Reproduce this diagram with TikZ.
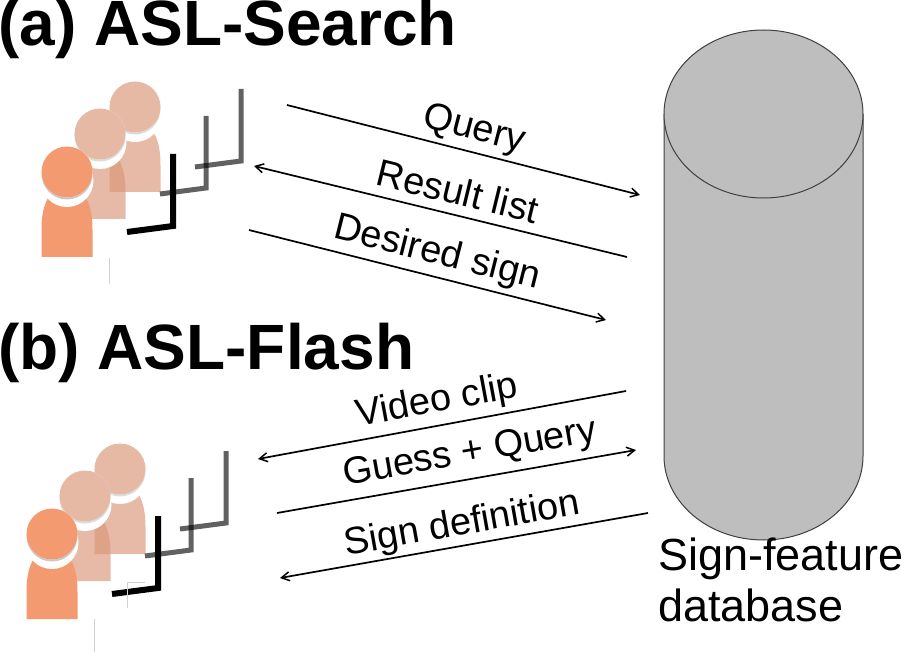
\documentclass[tikz,border=0pt]{standalone}
\usepackage{fontspec}
\setmainfont{Liberation Sans}
\usetikzlibrary{arrows.meta}
\definecolor{skin}{HTML}{F39A70}
\definecolor{faded}{HTML}{D99576}
\definecolor{cyl}{HTML}{BEBEBE}
\newcommand{\fsz}[1]{\fontsize{#1pt}{#1pt}\selectfont}
\tikzset{
 conn/.style={draw=black,line width=1.7pt,-{Straight Barb[length=8pt,width=9pt,line width=1.5pt]}},
 lab/.style={inner sep=0pt,font=\fsz{38}},
 biglab/.style={inner sep=0pt,font=\fsz{64}\bfseries,anchor=base west},
 side/.style={inner sep=0pt,font=\fsz{45},anchor=base west},
 guide/.style={draw=black!18,line width=.8pt},
 pics/person/.style n args={2}{code={
   \fill[#1,opacity=#2] (-25.5,85) -- (-25.5,58) .. controls (-25.5,42) and (-23,33) .. (-18,24) -- (18,24) .. controls (23,33) and (25.5,42) .. (25.5,58) -- (25.5,85) -- cycle;
   \fill[white] (0,8.5) circle (26.5);
   \fill[black,opacity=.22*#2] (0,2) circle (25.5);
   \fill[white] (0,0) circle (25.5);
   \fill[#1,opacity=#2] (0,0) circle (25.5);
 }},
 pics/screen/.style n args={2}{code={
   \draw[black,opacity=#1,line width=#2,line join=miter] (0,0) -- (0,72) -- (-46,78);
 }}
}
\begin{document}
\begin{tikzpicture}[x=1pt,y=-1pt]
\useasboundingbox (0,0) rectangle (902,652);
% cylinder
\draw[fill=cyl,draw=black!75,line width=1pt] (664,114) -- (664,456) arc[start angle=180,end angle=0,x radius=99.5,y radius=84] -- (863,114);
\draw[fill=cyl,draw=black!75,line width=1pt] (763.5,114) ellipse[x radius=99.5,y radius=84];
% groups of people
\foreach \ox/\oy in {0/0,-15/362}{
\begin{scope}[shift={(\ox,\oy)}]
 \pic at (135,107) {person={faded}{.65}};
 \pic at (100,134) {person={faded}{.65}};
 \pic at (67,172) {person={skin}{1}};
 \pic at (241,89) {screen={.62}{5pt}};
 \pic at (206,116) {screen={.62}{5pt}};
 \pic at (173,154) {screen={1}{6pt}};
\end{scope}}
\draw[guide] (109,258) -- (109,284);
\draw[guide] (94,619) -- (94,652);
\draw[guide] (127,608) -- (127,582) -- (145,582);
% titles
\node[biglab] (ta) at (-2,46) {(a) ASL-Search};
\node[biglab] (tb) at (-2,369) {(b) ASL-Flash};
\node[side] (s1) at (658,570) {Sign-feature};
\node[side] (s2) at (658,621) {database};
% arrows
\coordinate (q1) at (287,105); \coordinate (q2) at (640,195);
\coordinate (r1) at (627,257); \coordinate (r2) at (254,166);
\coordinate (d1) at (249,230); \coordinate (d2) at (606,320);
\coordinate (v1) at (626,391); \coordinate (v2) at (258,459);
\coordinate (g1) at (277,513); \coordinate (g2) at (636,450);
\coordinate (f1) at (648,513); \coordinate (f2) at (280,578);
\draw[conn] (q1) -- (q2);
\draw[conn] (r1) -- (r2);
\draw[conn] (d1) -- (d2);
\draw[conn] (v1) -- (v2);
\draw[conn] (g1) -- (g2);
\draw[conn] (f1) -- (f2);
\node[lab,rotate=-14.5] (lq) at (474,130) {Query};
\node[lab,rotate=-13.7] (lr) at (458,191) {Result list};
\node[lab,rotate=-14] (ld) at (437,254) {Desired sign};
\node[lab,rotate=10.5] (lv) at (437,402) {Video clip};
\node[lab,rotate=10] (lg) at (470,454) {Guess + Query};
\node[lab,rotate=10] (ls) at (462,525) {Sign definition};
\end{tikzpicture}
\end{document}
